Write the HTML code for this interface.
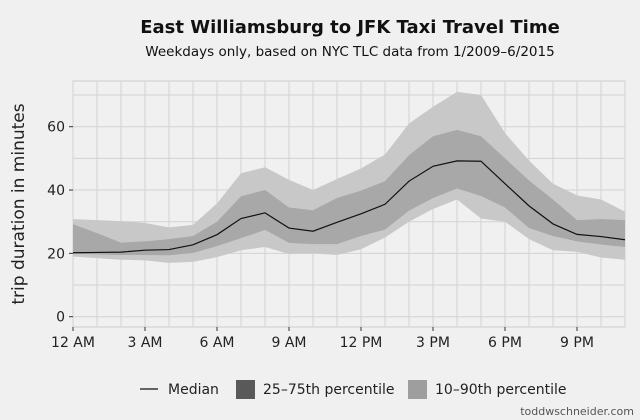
<!DOCTYPE html>
<html><head><meta charset="utf-8"><style>
body{margin:0;background:#f0f0f0;font-family:"DejaVu Sans","Liberation Sans",sans-serif;}
svg{display:block}
</style></head><body>
<svg width="640" height="420" xmlns="http://www.w3.org/2000/svg">
<rect width="640" height="420" fill="#f0f0f0"/>
<text x="350" y="33" text-anchor="middle" font-size="18" font-weight="bold" fill="#111">East Williamsburg to JFK Taxi Travel Time</text>
<text x="350" y="56" text-anchor="middle" font-size="13.5" fill="#111">Weekdays only, based on NYC TLC data from 1/2009–6/2015</text>
<text transform="translate(24,204) rotate(-90)" text-anchor="middle" font-size="17" fill="#222">trip duration in minutes</text>
<g id="grid"></g><g id="bands"></g><g id="line"></g><g id="axes"></g>
<g>
<line x1="140" y1="389" x2="158" y2="389" stroke="#111" stroke-width="1.3"/>
<text x="168" y="394" font-size="14" fill="#222">Median</text>
<rect x="236" y="380" width="19" height="19" fill="#595959"/>
<text x="263" y="394" font-size="14" fill="#222">25–75th percentile</text>
<rect x="408" y="380" width="19" height="19" fill="#9e9e9e"/>
<text x="435" y="394" font-size="14" fill="#222">10–90th percentile</text>
</g>
<text x="634" y="415" text-anchor="end" font-size="11" fill="#555">toddwschneider.com</text>
</svg>
<script>
const hours=[0,1,2,3,4,5,6,7,8,9,10,11,12,13,14,15,16,17,18,19,20,21,22,23];
const median=[20.2,20.3,20.4,21,21.2,22.7,25.9,31,32.8,28,27,29.8,32.5,35.5,42.8,47.5,49.2,49.1,42,35,29.3,26,25.3,24.3];
const p25=[19.9,19.7,19.5,19.5,19.4,20.1,22.3,24.8,27.4,23.3,22.9,22.9,25.5,27.5,33.5,37.5,40.5,38.1,34.5,28,25.5,23.8,22.8,22];
const p75=[29.2,26.4,23.4,23.8,24.5,25.5,30,38,40,34.5,33.6,37.5,39.8,42.8,51,57,59,57,50,43,37,30.5,30.8,30.5];
const p10=[19,18.5,18,17.8,17,17.3,18.8,21,22,19.8,20,19.5,21.3,25,30,34,37,31,30,24.5,21,20.5,18.7,18];
const p90=[30.8,30.5,30.2,29.6,28.2,29,35.8,45.3,47.2,43.2,40,43.5,46.8,51.2,61,66.3,71,70,58,49.3,42,38.3,37,33.2];
const yTicks=[0,20,40,60];
const xTickHours=[0,3,6,9,12,15,18,21];
const xTickLabels=["12 AM","3 AM","6 AM","9 AM","12 PM","3 PM","6 PM","9 PM"];
const L=73,R=625,T=81,B=327;
const x=h=>L+(h-0)*(R-L)/23;
const y=v=>316.7-v*(316.7-126.7)/60;
const NS="http://www.w3.org/2000/svg";
function mk(tag,attrs,parent){const e=document.createElementNS(NS,tag);for(const k in attrs)e.setAttribute(k,attrs[k]);document.getElementById(parent).appendChild(e);return e;}
const bg=mk('rect',{x:L,y:T,width:R-L,height:B-T,fill:'#f0f0f0',stroke:'#cccccc'},'grid');


for(let v=0;v<=70;v+=10){const g=mk('line',{x1:L,x2:R,y1:y(v),y2:y(v),stroke:'#d2d2d2','stroke-width':1},'grid');

}
for(const h of hours){const g=mk('line',{x1:x(h),x2:x(h),y1:T,y2:B,stroke:'#d2d2d2','stroke-width':1},'grid');

}
function band(lo,hi,fill,name){let d='M'+hours.map((h,i)=>x(h)+','+y(hi[i])).join('L');
d+='L'+hours.slice().reverse().map(h=>x(h)+','+y(lo[hours.indexOf(h)])).join('L')+'Z';
const p=mk('path',{d:d,fill:fill},'bands');

}
band(p10,p90,'#c8c8c8','band-10-90');
band(p25,p75,'#a8a8a8','band-25-75');
const ml=mk('path',{d:'M'+hours.map((h,i)=>x(h)+','+y(median[i])).join('L'),fill:'none',stroke:'#111','stroke-width':1.2},'line');


yTicks.forEach(v=>{const t=mk('line',{x1:L-4,x2:L,y1:y(v),y2:y(v),stroke:'#333'},'axes');


const s=mk('text',{x:L-8,y:y(v)+5,'text-anchor':'end','font-size':14,fill:'#222'},'axes');s.textContent=v;

});
xTickHours.forEach((h,i)=>{const t=mk('line',{x1:x(h),x2:x(h),y1:B,y2:B+4,stroke:'#333'},'axes');


const s=mk('text',{x:x(h),y:B+20,'text-anchor':'middle','font-size':14,fill:'#222'},'axes');s.textContent=xTickLabels[i];

});
</script>
</body></html>
